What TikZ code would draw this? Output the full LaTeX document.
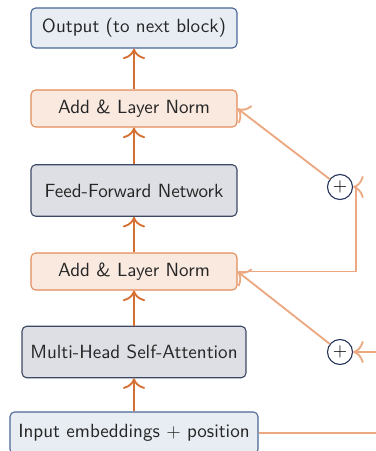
\documentclass[tikz,border=0pt]{standalone}
\usepackage{amsmath}
\usepackage{tikz}
\usetikzlibrary{arrows.meta, positioning, calc}

\definecolor{flow}{RGB}{214,112,50}
\definecolor{resid}{RGB}{236,168,128}
\definecolor{ioFill}{RGB}{232,237,244}
\definecolor{ioLine}{RGB}{74,102,150}
\definecolor{normFill}{RGB}{249,233,223}
\definecolor{normLine}{RGB}{226,140,90}
\definecolor{layFill}{RGB}{222,223,228}
\definecolor{layLine}{RGB}{60,72,100}
\definecolor{plusLine}{RGB}{40,55,90}

\begin{document}
\begin{tikzpicture}[x=0.54pt,y=-0.54pt,
    box/.style={draw,rounded corners=2.5pt,line width=0.6pt,
                font=\sffamily\fontsize{10.3pt}{12pt}\selectfont,
                text=black!85,minimum height=20pt,inner xsep=4.5pt},
    iobox/.style={box,fill=ioFill,draw=ioLine},
    normbox/.style={box,fill=normFill,draw=normLine,minimum width=111.2pt},
    layerbox/.style={box,fill=layFill,draw=layLine,minimum height=27.8pt},
    addnode/.style={circle,draw=plusLine,fill=white,line width=0.6pt,
                    minimum size=13.5pt,inner sep=0pt},
    flowarr/.style={-{To[scale=1.5]},draw=flow,line width=1pt},
    resarr/.style={-{To[scale=1.5]},draw=resid,line width=1pt}]
  \useasboundingbox (0,0) rectangle (376,451);

  % main stack
  \node[iobox,minimum width=111.2pt,minimum height=21.6pt] (out) at (134,28) {Output (to next block)};
  \node[normbox] (ln2) at (134,108.5) {Add \& Layer Norm};
  \node[layerbox,minimum width=111.2pt] (ffn) at (134,190.5) {Feed-Forward Network};
  \node[normbox] (ln1) at (134,271.5) {Add \& Layer Norm};
  \node[layerbox] (mhsa) at (134,352) {Multi-Head Self-Attention};
  \node[iobox,minimum height=22.7pt] (inp) at (134,433) {Input embeddings $+$ position};

  % residual adders
  \node[addnode] (add1) at (340,352) {$+$};
  \node[addnode] (add2) at (340,187) {$+$};
  \coordinate (skip) at (400,433);

  \draw[flowarr] (inp.north) -- (mhsa.south);
  \draw[flowarr] (mhsa.north) -- (ln1.south);
  \draw[flowarr] (ln1.north) -- (ffn.south);
  \draw[flowarr] (ffn.north) -- (ln2.south);
  \draw[flowarr] (ln2.north) -- (out.south);

  % skip connections
  \draw[resarr] (inp.east) -- (skip) |- (add1.east);
  \draw[resarr] (add1) -- (ln1.east);
  \draw[resarr] (ln1.east) -| ([xshift=1.6pt]add2.east) -- (add2.east);
  \draw[resarr] (add2) -- (ln2.east);
\end{tikzpicture}
\end{document}
